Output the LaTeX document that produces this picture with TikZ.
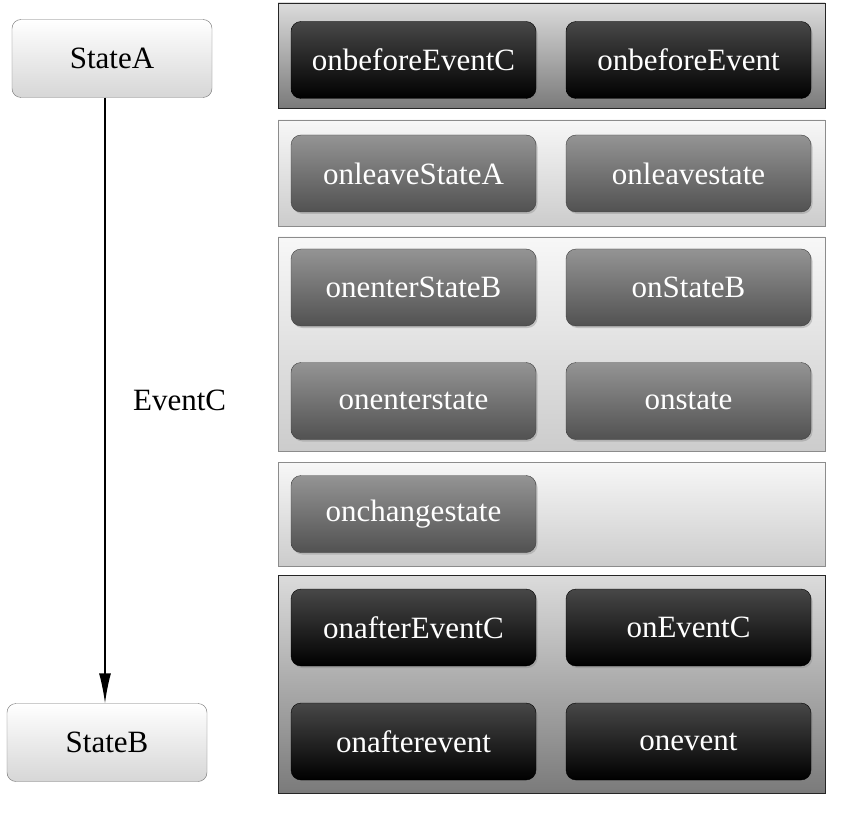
\documentclass[tikz,border=0pt]{standalone}
\usepackage{fontspec}
\setmainfont{Liberation Serif}
\usetikzlibrary{arrows.meta,positioning,shadows}
\newcommand{\bigtxt}{\fontsize{31}{36}\selectfont}
\tikzset{
  >={Latex[length=30pt,width=12pt]},
  state/.style={draw=black!55,rounded corners=9pt,top color=white,bottom color=black!16,
    minimum width=200pt,minimum height=78pt,font=\bigtxt,text=black},
  panel/.style={draw=#1,thick,minimum width=547pt},
  dark panel/.style={panel=black!85,top color=black!14,bottom color=black!52},
  light panel/.style={panel=black!45,top color=black!3,bottom color=black!20},
  button/.style={rounded corners=10pt,minimum width=245pt,minimum height=77pt,
    font=\bigtxt,text=white,drop shadow={opacity=0.35,shadow xshift=1.5pt,shadow yshift=-2pt}},
  dark button/.style={button,draw=black,top color=black!72,bottom color=black},
  grey button/.style={button,draw=black!75,top color=black!42,bottom color=black!68},
  flow/.style={->,line width=1.5pt,draw=black},
}
\begin{document}
\begin{tikzpicture}[x=1pt,y=-1pt]
  \useasboundingbox[fill=white] (0,0) rectangle (843,818);
  % states
  \node[state] (sa) at (112,58.5) {StateA};
  \node[state] (sb) at (107,742.5) {StateB};
  \draw[flow] (sa.south -| 105,0) -- (sb.north -| 105,0) node[pos=0.5,right=24pt,font=\bigtxt] (ev) {EventC};
  % panels
  \node[dark panel,minimum height=105pt] (p1) at (551.5,55.5) {};
  \node[light panel,minimum height=106pt] (p2) at (551.5,173) {};
  \node[light panel,minimum height=214pt] (p3) at (551.5,344) {};
  \node[light panel,minimum height=104pt] (p4) at (551.5,514) {};
  \node[dark panel,minimum height=218pt] (p5) at (551.5,684) {};
  % buttons
  \node[dark button] (b1) at (413.5,60) {onbeforeEventC};
  \node[dark button] (b2) at (688.5,60) {onbeforeEvent};
  \node[grey button] (b3) at (413.5,173.5) {onleaveStateA};
  \node[grey button] (b4) at (688.5,173.5) {onleavestate};
  \node[grey button] (b5) at (413.5,287.5) {onenterStateB};
  \node[grey button] (b6) at (688.5,287.5) {onStateB};
  \node[grey button] (b7) at (413.5,401) {onenterstate};
  \node[grey button] (b8) at (688.5,401) {onstate};
  \node[grey button] (b9) at (413.5,514) {onchangestate};
  \node[dark button] (b10) at (413.5,627.5) {onafterEventC};
  \node[dark button] (b11) at (688.5,627.5) {onEventC};
  \node[dark button] (b12) at (413.5,741.5) {onafterevent};
  \node[dark button] (b13) at (688.5,741.5) {onevent};
\end{tikzpicture}
\end{document}
